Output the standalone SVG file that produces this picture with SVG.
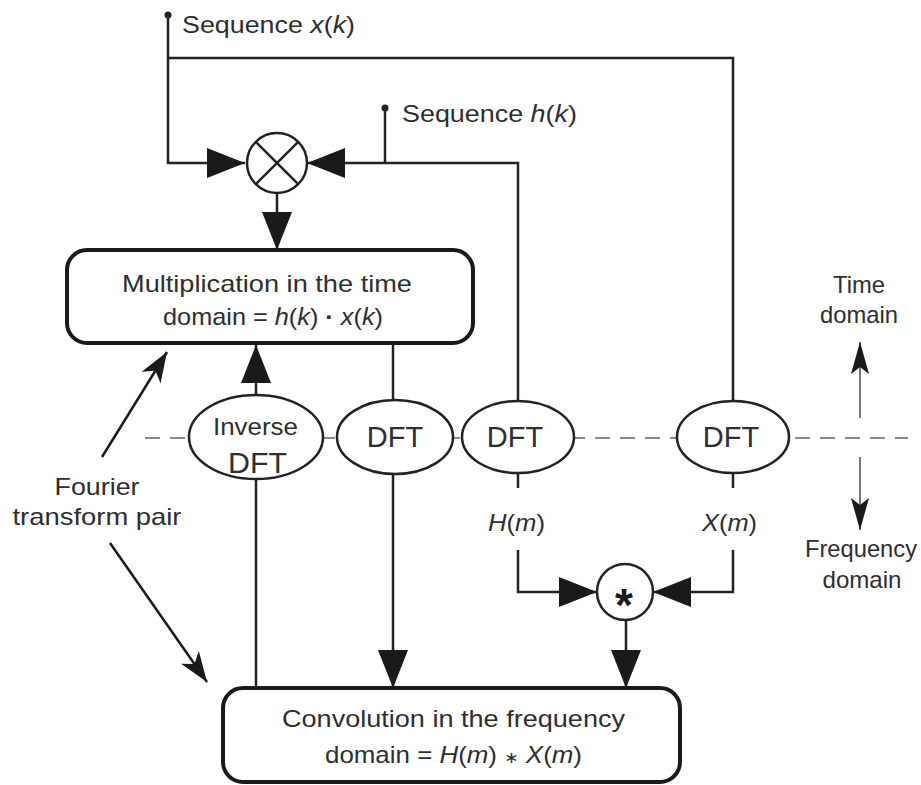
<svg xmlns="http://www.w3.org/2000/svg" width="921" height="785" viewBox="0 0 921 785">
<style>
  .t { font-family: "Liberation Sans", Arial, sans-serif; font-size: 24px; fill: #2e2e2e; }
  .big { font-family: "Liberation Sans", Arial, sans-serif; font-size: 29px; fill: #2e2e2e; }
  .i { font-style: italic; }
  .ln { stroke: #222; stroke-width: 2.5; fill: none; }
  .box { stroke: #1a1a1a; stroke-width: 4; fill: #fff; }
  .ell { stroke: #222; stroke-width: 2.5; fill: #fff; }
  .dash { stroke: #888; stroke-width: 2; stroke-dasharray: 15 10; fill: none; }
  .gray { stroke: #777; stroke-width: 2; fill: none; }
</style>
<defs>
  <marker id="tri" markerUnits="userSpaceOnUse" viewBox="0 0 38 30" markerWidth="38" markerHeight="30" refX="38" refY="15" orient="auto">
    <path d="M0,0 L38,15 L0,30 z" fill="#1a1a1a"/>
  </marker>
  <marker id="barb" markerUnits="userSpaceOnUse" viewBox="0 0 30 22" markerWidth="30" markerHeight="22" refX="30" refY="11" orient="auto">
    <path d="M0,0 L30,11 L0,22 L8,11 z" fill="#1a1a1a"/>
  </marker>
  <marker id="barb2" markerUnits="userSpaceOnUse" viewBox="0 0 32 18" markerWidth="32" markerHeight="18" refX="32" refY="9" orient="auto">
    <path d="M0,0 L32,9 L0,18 L7,9 z" fill="#1a1a1a"/>
  </marker>
</defs>

<!-- time/frequency divider -->
<line class="dash" x1="145" y1="438" x2="908" y2="438"/>

<g id="connectors">
  <!-- x(k) input -->
  <circle cx="168" cy="15" r="3.5" fill="#222"/>
  <polyline class="ln" points="168,15 168,163 245,163" marker-end="url(#tri)"/>
  <polyline class="ln" points="168,58 733,58 733,400"/>
  <!-- h(k) input -->
  <circle cx="385" cy="108" r="3.5" fill="#222"/>
  <line class="ln" x1="385" y1="108" x2="385" y2="163"/>
  <polyline class="ln" points="518,401 518,163 307,163" marker-end="url(#tri)"/>
  <!-- multiplier to box -->
  <line class="ln" x1="277" y1="193" x2="277" y2="250" marker-end="url(#tri)"/>
  <!-- inverse DFT up to mult box, and down to conv box -->
  <line class="ln" x1="256" y1="396" x2="256" y2="345" marker-end="url(#tri)"/>
  <line class="ln" x1="256" y1="478" x2="256" y2="688"/>
  <!-- mult box to DFT, DFT to conv box -->
  <line class="ln" x1="393" y1="343" x2="393" y2="400"/>
  <line class="ln" x1="393" y1="474" x2="393" y2="688" marker-end="url(#tri)"/>
  <!-- DFT stubs -->
  <line class="ln" x1="518" y1="473" x2="518" y2="488"/>
  <line class="ln" x1="733" y1="473" x2="733" y2="488"/>
  <!-- H(m), X(m) into convolver -->
  <polyline class="ln" points="518,550 518,592 597,592" marker-end="url(#tri)"/>
  <polyline class="ln" points="733,550 733,592 653,592" marker-end="url(#tri)"/>
  <line class="ln" x1="626" y1="620" x2="626" y2="688" marker-end="url(#tri)"/>
  <!-- Fourier transform pair arrows -->
  <line x1="102" y1="457" x2="167" y2="352" stroke="#1a1a1a" stroke-width="2.5" marker-end="url(#barb)"/>
  <line x1="110" y1="543" x2="207" y2="682" stroke="#1a1a1a" stroke-width="2.5" marker-end="url(#barb)"/>
  <!-- time / frequency arrows -->
  <line class="gray" x1="860" y1="418" x2="860" y2="342" marker-end="url(#barb2)"/>
  <line class="gray" x1="860" y1="457" x2="860" y2="530" marker-end="url(#barb2)"/>
</g>

<g id="multiplier">
  <circle class="ell" cx="277" cy="163" r="30"/>
  <line class="ln" x1="255.8" y1="141.8" x2="298.2" y2="184.2"/>
  <line class="ln" x1="298.2" y1="141.8" x2="255.8" y2="184.2"/>
</g>

<g id="label-xk">
  <text class="t" x="182" y="33" textLength="173" lengthAdjust="spacingAndGlyphs">Sequence <tspan class="i">x</tspan>(<tspan class="i">k</tspan>)</text>
</g>
<g id="label-hk">
  <text class="t" x="402" y="122" textLength="175" lengthAdjust="spacingAndGlyphs">Sequence <tspan class="i">h</tspan>(<tspan class="i">k</tspan>)</text>
</g>

<g id="mult-box">
  <rect class="box" x="67" y="250" width="406" height="93" rx="20"/>
  <text class="t" x="122" y="292" textLength="290" lengthAdjust="spacingAndGlyphs">Multiplication in the time</text>
  <text class="t" x="163" y="325" textLength="220" lengthAdjust="spacingAndGlyphs">domain = <tspan class="i">h</tspan>(<tspan class="i">k</tspan>) <tspan font-weight="bold">·</tspan> <tspan class="i">x</tspan>(<tspan class="i">k</tspan>)</text>
</g>

<g id="inverse-dft">
  <ellipse class="ell" cx="256" cy="437" rx="67" ry="42"/>
  <text class="t" x="213" y="435" textLength="85" lengthAdjust="spacingAndGlyphs">Inverse</text>
  <text class="big" x="228" y="473" textLength="59" lengthAdjust="spacingAndGlyphs">DFT</text>
</g>
<g id="dft-1">
  <ellipse class="ell" cx="395" cy="437" rx="58" ry="37"/>
  <text class="big" x="395" y="447" text-anchor="middle">DFT</text>
</g>
<g id="dft-h">
  <ellipse class="ell" cx="518" cy="437" rx="56" ry="36"/>
  <text class="big" x="515" y="447" text-anchor="middle">DFT</text>
  <text class="t" x="488" y="531" textLength="57" lengthAdjust="spacingAndGlyphs"><tspan class="i">H</tspan>(<tspan class="i">m</tspan>)</text>
</g>
<g id="dft-x">
  <ellipse class="ell" cx="733" cy="437" rx="56" ry="36"/>
  <text class="big" x="731" y="447" text-anchor="middle">DFT</text>
  <text class="t" x="702" y="531" textLength="55" lengthAdjust="spacingAndGlyphs"><tspan class="i">X</tspan>(<tspan class="i">m</tspan>)</text>
</g>

<g id="convolver">
  <circle class="ell" cx="625" cy="592" r="28"/>
  <text x="624" y="621" text-anchor="middle" font-family="Liberation Sans, Arial, sans-serif" font-weight="bold" font-size="46" fill="#1a1a1a">*</text>
</g>

<g id="conv-box">
  <rect class="box" x="223" y="688" width="457" height="94" rx="20"/>
  <text class="t" x="282" y="727" textLength="343" lengthAdjust="spacingAndGlyphs">Convolution in the frequency</text>
  <text class="t" x="325" y="763" textLength="257" lengthAdjust="spacingAndGlyphs">domain = <tspan class="i">H</tspan>(<tspan class="i">m</tspan>) <tspan font-family="DejaVu Sans, sans-serif" font-size="16">∗</tspan> <tspan class="i">X</tspan>(<tspan class="i">m</tspan>)</text>
</g>

<g id="fourier-label">
  <text class="t" x="97" y="495" text-anchor="middle" textLength="85" lengthAdjust="spacingAndGlyphs">Fourier</text>
  <text class="t" x="97" y="525" text-anchor="middle" textLength="169" lengthAdjust="spacingAndGlyphs">transform pair</text>
</g>

<g id="time-label">
  <text class="t" x="859" y="293" text-anchor="middle" textLength="52" lengthAdjust="spacingAndGlyphs">Time</text>
  <text class="t" x="859" y="323" text-anchor="middle" textLength="78" lengthAdjust="spacingAndGlyphs">domain</text>
</g>
<g id="freq-label">
  <text class="t" x="861" y="557" text-anchor="middle" textLength="112" lengthAdjust="spacingAndGlyphs">Frequency</text>
  <text class="t" x="862" y="588" text-anchor="middle" textLength="79" lengthAdjust="spacingAndGlyphs">domain</text>
</g>
</svg>
